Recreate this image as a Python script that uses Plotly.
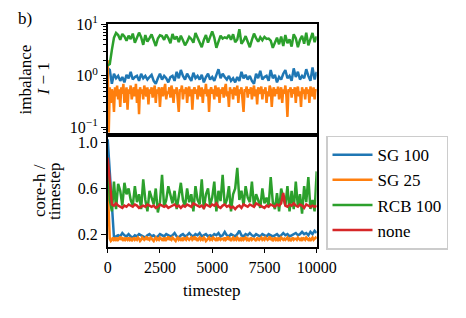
import plotly.graph_objects as go

# ---------------- data ----------------
steps_100 = list(range(0, 10001, 100))   # 101 points
steps_50 = list(range(0, 10001, 50))     # 201 points

imb_sg100 = [
    1.4, 1.3, 0.7, 1.1, 0.9, 1.0, 0.8, 0.95, 0.75, 1.05,
    0.9, 1.2, 0.85, 0.95, 1.0, 0.8, 1.1, 0.9, 1.0, 0.85,
    0.95, 1.05, 0.8, 0.7, 0.9, 1.1, 0.85, 1.0, 0.9, 0.75,
    0.95, 1.0, 0.8, 1.2, 0.9, 1.3, 1.0, 0.85, 1.1, 0.95,
    0.8, 1.15, 0.9, 1.0, 0.85, 1.05, 0.75, 0.95, 1.1, 0.85,
    0.95, 0.8, 1.0, 1.35, 0.9, 1.1, 0.95, 0.85, 1.0, 0.8,
    0.9, 0.75, 0.95, 0.8, 1.2, 0.9, 1.05, 0.85, 1.0, 0.8,
    0.7, 1.1, 0.9, 1.25, 0.85, 0.95, 1.0, 0.8, 1.3, 0.9,
    1.05, 0.75, 0.95, 0.85, 1.1, 1.3, 0.9, 1.0, 0.8, 1.4,
    0.95, 1.2, 0.85, 1.0, 0.9, 1.35, 1.0, 0.8, 1.45, 0.85,
    1.2,
]

imb_sg25 = [
    2.0, 0.08, 0.6, 0.3, 0.55, 0.45, 0.2, 0.6, 0.4, 0.65,
    0.35, 0.55, 0.25, 0.6, 0.45, 0.7, 0.3, 0.5, 0.6, 0.22,
    0.55, 0.45, 0.65, 0.35, 0.5, 0.6, 0.4, 0.7, 0.3, 0.55,
    0.18, 0.6, 0.45, 0.55, 0.35, 0.65, 0.5, 0.4, 0.6, 0.28,
    0.55, 0.45, 0.6, 0.38, 0.5, 0.65, 0.3, 0.55, 0.45, 0.6,
    0.25, 0.5, 0.6, 0.4, 0.55, 0.7, 0.35, 0.5, 0.45, 0.6,
    0.38, 0.65, 0.5, 0.3, 0.55, 0.45, 0.6, 0.4, 0.2, 0.55,
    0.5, 0.65, 0.35, 0.55, 0.45, 0.6, 0.3, 0.5, 0.62, 0.4,
    0.55, 0.22, 0.5, 0.6, 0.45, 0.55, 0.35, 0.65, 0.5, 0.4,
    0.6, 0.3, 0.55, 0.45, 0.7, 0.4, 0.55, 0.2, 0.5, 0.6,
    0.45, 0.55, 0.35, 0.65, 0.5, 0.4, 0.6, 0.3, 0.55, 0.45,
    0.6, 0.38, 0.55, 0.7, 0.4, 0.5, 0.25, 0.6, 0.45, 0.55,
    0.35, 0.6, 0.5, 0.42, 0.65, 0.3, 0.55, 0.45, 0.6, 0.4,
    0.2, 0.55, 0.5, 0.62, 0.38, 0.55, 0.45, 0.6, 0.35, 0.5,
    0.65, 0.4, 0.55, 0.28, 0.6, 0.45, 0.5, 0.62, 0.35, 0.55,
    0.45, 0.6, 0.3, 0.5, 0.4, 0.65, 0.55, 0.25, 0.5, 0.6,
    0.4, 0.55, 0.45, 0.62, 0.35, 0.5, 0.6, 0.3, 0.55, 0.45,
    0.65, 0.4, 0.16, 0.55, 0.5, 0.6, 0.38, 0.55, 0.45, 0.6,
    0.3, 0.55, 0.62, 0.4, 0.5, 0.25, 0.6, 0.45, 0.55, 0.35,
    0.6, 0.45, 0.55, 0.3, 0.62, 0.5, 0.4, 0.6, 0.35, 0.55,
    0.5,
]

imb_rcb100 = [
    1.6, 1.7, 3.2, 5.5, 6.8, 6.2, 5.0, 6.5, 5.8, 4.8,
    6.0, 5.2, 6.6, 4.4, 5.5, 6.9, 5.6, 4.0, 6.2, 4.6,
    5.4, 6.4, 4.9, 3.8, 5.3, 6.1, 5.9, 5.0, 6.3, 5.4,
    4.3, 6.5, 5.1, 5.8, 4.5, 6.0, 4.9, 3.9, 4.6, 5.7,
    5.2, 4.4, 6.8, 5.6, 4.7, 3.6, 5.0, 6.2, 4.4, 5.9,
    7.3, 5.5, 3.5, 4.6, 6.0, 5.3, 5.6, 5.4, 6.2, 5.0,
    6.4, 4.5, 5.1, 8.0, 4.2, 4.8, 5.9, 4.6, 3.6, 5.0,
    6.6, 5.4, 4.6, 5.6, 4.9, 5.7, 5.2, 5.3, 4.8, 3.5,
    4.4, 5.5, 4.1, 5.8, 3.8, 6.2, 4.3, 5.1, 3.7, 6.4,
    5.4, 3.6, 5.0, 6.0, 4.2, 6.9, 3.9, 5.2, 6.8, 4.5,
    5.8,
]

core_sg100 = [
    1.03, 0.75, 0.4, 0.17, 0.18, 0.19, 0.18, 0.21, 0.19, 0.18,
    0.2, 0.18, 0.17, 0.19, 0.18, 0.2, 0.19, 0.18, 0.17, 0.19,
    0.2, 0.18, 0.19, 0.17, 0.18, 0.2, 0.19, 0.18, 0.2, 0.19,
    0.18, 0.19, 0.21, 0.18, 0.17, 0.19, 0.2, 0.18, 0.19, 0.21,
    0.19, 0.18, 0.2, 0.19, 0.21, 0.18, 0.19, 0.2, 0.18, 0.19,
    0.18, 0.2, 0.19, 0.21, 0.18, 0.19, 0.22, 0.19, 0.18, 0.2,
    0.19, 0.18, 0.2, 0.23, 0.19, 0.18, 0.2, 0.19, 0.21, 0.19,
    0.18, 0.2, 0.19, 0.18, 0.2, 0.19, 0.18, 0.2, 0.19, 0.18,
    0.19, 0.2, 0.18, 0.19, 0.21, 0.19, 0.2, 0.18, 0.19, 0.2,
    0.21, 0.19, 0.2, 0.22, 0.2, 0.21, 0.19, 0.22, 0.2, 0.23,
    0.21,
]

core_sg25 = [
    0.62, 0.4, 0.16, 0.14, 0.15, 0.17, 0.15, 0.16, 0.14, 0.17,
    0.15, 0.16, 0.18, 0.15, 0.16, 0.14, 0.17, 0.15, 0.16, 0.15,
    0.17, 0.15, 0.16, 0.14, 0.16, 0.17, 0.15, 0.16, 0.15, 0.17,
    0.16, 0.14, 0.15, 0.17, 0.16, 0.15, 0.16, 0.18, 0.15, 0.16,
    0.15, 0.17, 0.16, 0.15, 0.14, 0.16, 0.17, 0.15, 0.16, 0.15,
    0.17, 0.16, 0.15, 0.16, 0.14, 0.17, 0.15, 0.16, 0.18, 0.15,
    0.16, 0.15, 0.17, 0.16, 0.15, 0.14, 0.16, 0.17, 0.15, 0.16,
    0.15, 0.16, 0.14, 0.17, 0.16, 0.15, 0.17, 0.16, 0.15, 0.16,
    0.17, 0.15, 0.16, 0.18, 0.15, 0.16, 0.14, 0.16, 0.17, 0.15,
    0.16, 0.15, 0.17, 0.16, 0.14, 0.15, 0.16, 0.17, 0.15, 0.16,
    0.15, 0.17, 0.16, 0.15, 0.16, 0.14, 0.17, 0.16, 0.15, 0.16,
    0.16, 0.15, 0.17, 0.15, 0.16, 0.18, 0.15, 0.16, 0.14, 0.16,
    0.17, 0.15, 0.16, 0.15, 0.17, 0.16, 0.14, 0.16, 0.15, 0.17,
    0.15, 0.16, 0.17, 0.15, 0.16, 0.14, 0.16, 0.17, 0.15, 0.16,
    0.16, 0.15, 0.14, 0.17, 0.16, 0.15, 0.16, 0.17, 0.15, 0.16,
    0.15, 0.17, 0.16, 0.15, 0.16, 0.18, 0.15, 0.16, 0.14, 0.16,
    0.17, 0.15, 0.16, 0.14, 0.16, 0.15, 0.17, 0.16, 0.15, 0.16,
    0.15, 0.16, 0.17, 0.15, 0.16, 0.14, 0.16, 0.17, 0.15, 0.16,
    0.16, 0.15, 0.17, 0.16, 0.15, 0.16, 0.14, 0.17, 0.16, 0.15,
    0.17, 0.16, 0.15, 0.16, 0.14, 0.16, 0.17, 0.15, 0.16, 0.17,
    0.16,
]

core_rcb100 = [
    0.85, 0.5, 0.4, 0.66, 0.42, 0.64, 0.58, 0.45, 0.65, 0.55,
    0.6, 0.5, 0.45, 0.62, 0.48, 0.55, 0.42, 0.68, 0.5, 0.4,
    0.58, 0.52, 0.46, 0.6, 0.39, 0.48, 0.72, 0.44, 0.5, 0.62,
    0.55, 0.47, 0.58, 0.42, 0.53, 0.65, 0.5, 0.44, 0.6, 0.48,
    0.55, 0.4, 0.62, 0.5, 0.46, 0.68, 0.42, 0.55, 0.6, 0.45,
    0.52, 0.66, 0.4, 0.58, 0.49, 0.72, 0.45, 0.5, 0.62, 0.4,
    0.55, 0.6, 0.78, 0.5, 0.58, 0.45, 0.62, 0.52, 0.48, 0.66,
    0.44, 0.55, 0.5, 0.43, 0.6, 0.47, 0.52, 0.45, 0.7, 0.48,
    0.42, 0.56, 0.4, 0.6, 0.52, 0.45, 0.62, 0.4, 0.58, 0.42,
    0.66, 0.44, 0.55, 0.38, 0.62, 0.48, 0.7, 0.42, 0.5, 0.4,
    0.75,
]

core_none = [
    0.87, 0.65, 0.46, 0.45, 0.47, 0.45, 0.44, 0.43, 0.45, 0.44,
    0.46, 0.45, 0.44, 0.46, 0.45, 0.43, 0.44, 0.45, 0.44, 0.46,
    0.45, 0.44, 0.45, 0.43, 0.44, 0.46, 0.45, 0.44, 0.45, 0.43,
    0.44, 0.45, 0.46, 0.44, 0.45, 0.43, 0.45, 0.44, 0.46, 0.45,
    0.44, 0.47, 0.46, 0.45, 0.44, 0.45, 0.43, 0.46, 0.45, 0.44,
    0.46, 0.45, 0.47, 0.44, 0.43, 0.45, 0.46, 0.44, 0.45, 0.43,
    0.44, 0.42, 0.44, 0.45, 0.43, 0.46, 0.45, 0.44, 0.46, 0.45,
    0.44, 0.47, 0.46, 0.45, 0.44, 0.43, 0.45, 0.44, 0.46, 0.45,
    0.44, 0.46, 0.45, 0.47, 0.56, 0.45, 0.44, 0.46, 0.45, 0.47,
    0.45, 0.44, 0.46, 0.45, 0.43, 0.46, 0.45, 0.44, 0.45, 0.44,
    0.45,
]

series_names = ["SG 100", "SG 25", "RCB 100", "none"]
x_ticks = [0, 2500, 5000, 7500, 10000]
top_ticks = [0.1, 1, 10]
top_ticktext = ["10<sup>−1</sup>", "10<sup>0</sup>", "10<sup>1</sup>"]
bot_ticks = [0.2, 0.6, 1.0]
bot_ticktext = ["0.2", "0.6", "1.0"]

# ---------------- style ----------------
# page body has an 8px margin, so the figure is sized to fit inside it
OFF = 8
W, H = 466 - 2 * OFF, 318 - 2 * OFF
FONT = "Liberation Serif, Times New Roman, DejaVu Serif, serif"
FS = 17
TFS = 16
colors = {"SG 100": "#1f77b4", "SG 25": "#ff7f0e", "RCB 100": "#2ca02c", "none": "#d62728"}
LW = 2.5

def px_x(p):
    return (p - OFF) / W

def px_y(p):
    return 1 - (p - OFF) / H

x_dom = [px_x(107.7), px_x(316.7)]
top_dom = [px_y(135.2), px_y(24.3)]
bot_dom = [px_y(246.7), px_y(135.2)]

fig = go.Figure()

# top panel
fig.add_trace(go.Scatter(x=steps_100, y=imb_sg100, mode="lines", name="SG 100",
                         line=dict(color=colors["SG 100"], width=LW), xaxis="x", yaxis="y", showlegend=False))
fig.add_trace(go.Scatter(x=steps_50, y=imb_sg25, mode="lines", name="SG 25",
                         line=dict(color=colors["SG 25"], width=LW), xaxis="x", yaxis="y", showlegend=False))
fig.add_trace(go.Scatter(x=steps_100, y=imb_rcb100, mode="lines", name="RCB 100",
                         line=dict(color=colors["RCB 100"], width=LW), xaxis="x", yaxis="y", showlegend=False))

# bottom panel
fig.add_trace(go.Scatter(x=steps_100, y=core_sg100, mode="lines", name="SG 100",
                         line=dict(color=colors["SG 100"], width=LW), xaxis="x2", yaxis="y2"))
fig.add_trace(go.Scatter(x=steps_50, y=core_sg25, mode="lines", name="SG 25",
                         line=dict(color=colors["SG 25"], width=LW), xaxis="x2", yaxis="y2"))
fig.add_trace(go.Scatter(x=steps_100, y=core_rcb100, mode="lines", name="RCB 100",
                         line=dict(color=colors["RCB 100"], width=LW), xaxis="x2", yaxis="y2"))
fig.add_trace(go.Scatter(x=steps_100, y=core_none, mode="lines", name="none",
                         line=dict(color=colors["none"], width=LW), xaxis="x2", yaxis="y2"))

axis_common = dict(showline=True, linecolor="black", linewidth=1.5, mirror=True,
                   showgrid=False, zeroline=False, automargin=False,
                   tickfont=dict(family=FONT, size=TFS, color="black"),
                   tickcolor="black", tickwidth=1)

label_font = dict(family=FONT, size=FS, color="black")

fig.update_layout(
    width=W, height=H,
    margin=dict(l=0, r=0, t=0, b=0, pad=0, autoexpand=False),
    paper_bgcolor="white", plot_bgcolor="white",
    font=label_font,
    xaxis=dict(domain=x_dom, anchor="y", range=[0, 10000], matches="x2",
               showticklabels=False, ticks="", **axis_common),
    yaxis=dict(domain=top_dom, anchor="x", type="log", range=[-1.15, 1.0],
               tickmode="array", tickvals=top_ticks, ticktext=top_ticktext,
               ticks="outside", ticklen=5,
               minor=dict(ticks="outside", ticklen=3, tickcolor="black", tickwidth=1,
                          tickvals=[0.08, 0.09, 0.2, 0.3, 0.4, 0.5, 0.6, 0.7, 0.8, 0.9,
                                    2, 3, 4, 5, 6, 7, 8, 9], showgrid=False),
               **axis_common),
    xaxis2=dict(domain=x_dom, anchor="y2", range=[0, 10000],
                tickmode="array", tickvals=x_ticks, ticktext=[str(v) for v in x_ticks],
                ticks="outside", ticklen=5, **axis_common),
    yaxis2=dict(domain=bot_dom, anchor="x2", range=[0.09, 1.067],
                tickmode="array", tickvals=bot_ticks, ticktext=bot_ticktext,
                ticks="outside", ticklen=5, **axis_common),
    legend=dict(x=px_x(326), y=px_y(135.7), xanchor="left", yanchor="top",
                bgcolor="white", bordercolor="#cccccc", borderwidth=1.5,
                font=label_font, tracegroupgap=0, itemwidth=40),
    annotations=[
        dict(text="b)", x=px_x(24.5), y=1.0, xref="paper", yref="paper",
             showarrow=False, xanchor="center", yanchor="top", borderpad=0, font=label_font),
        dict(text="imbalance", x=px_x(25), y=px_y(79.5), xref="paper", yref="paper",
             showarrow=False, textangle=-90, xanchor="center", yanchor="middle", font=label_font),
        dict(text="<i>I</i> − 1", x=px_x(43), y=px_y(79.5), xref="paper", yref="paper",
             showarrow=False, textangle=-90, xanchor="center", yanchor="middle", font=label_font),
        dict(text="core-h /", x=px_x(39), y=px_y(191), xref="paper", yref="paper",
             showarrow=False, textangle=-90, xanchor="center", yanchor="middle", font=label_font),
        dict(text="timestep", x=px_x(54), y=px_y(191), xref="paper", yref="paper",
             showarrow=False, textangle=-90, xanchor="center", yanchor="middle", font=label_font),
        dict(text="timestep", x=px_x(212.2), y=px_y(290), xref="paper", yref="paper",
             showarrow=False, xanchor="center", yanchor="middle", font=label_font),
    ],
)

fig.write_html("out.html")
